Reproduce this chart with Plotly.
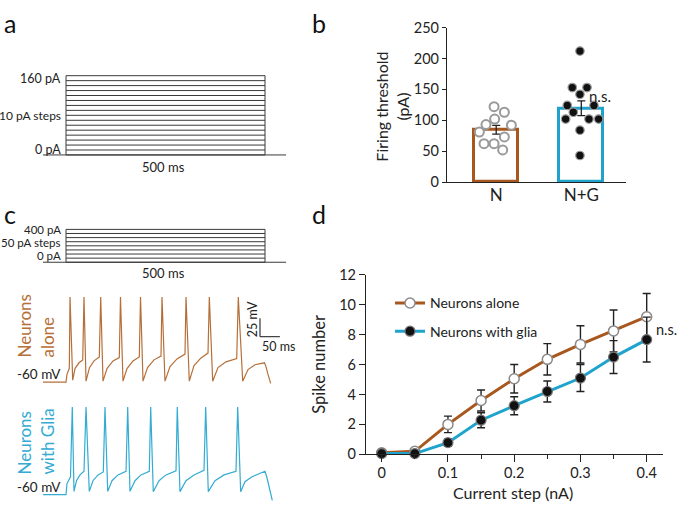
import plotly.graph_objects as go

W, H = 680, 509
FONT = "Lato"
BROWN = "#a8581f"
BROWN_TR = "#b5703a"
BLUE = "#1fa3cd"
BLUE_TR = "#33abd2"
INK = "#222222"

# ---- panel a / c : stimulus protocols ----
stim_a_levels = [0, 10, 20, 30, 40, 50, 60, 70, 80, 90, 100, 110, 120, 130, 140, 150, 160]
stim_c_levels = [0, 50, 100, 150, 200, 250, 300, 350, 400]
stim_dur = 500          # ms
base_t = [-58, 553]     # ms, holding line

# ---- panel c : voltage traces (ms, mV) ----
alone_t = [-57.8, 0, 2.5, 8.3, 10.1, 16.8, 22.6, 32.7, 42.0, 45.2, 50.3, 59.0, 70.4, 83.7, 87.2,
           93.0, 103.0, 118.1, 133.9, 136.9, 143.2, 153.3, 168.3, 184.2, 187.2, 193.5, 204.8,
           221.1, 238.7, 241.2, 248.7, 261.3, 278.9, 299.0, 301.5, 309.8, 321.6, 339.2, 356.8,
           360.1, 368.6, 381.9, 402.0, 428.9, 432.9, 444.0, 457.3, 474.9, 498.7, 502.5, 507.5, 514.3]
alone_v = [-60, -60, -49.5, -41.2, 55.8, -57.4, -41.6, -33.7, -29.7, 55.8, -58.7, -40.3, -31.1,
           -25.8, 55.8, -58.7, -41.6, -31.1, -26.7, 55.8, -58.7, -41.6, -31.1, -25.8, 55.8, -58.7,
           -40.3, -29.7, -24.5, 55.8, -58.7, -38.9, -28.4, -21.8, 55.8, -58.7, -37.6, -27.1, -20.5,
           55.8, -58.7, -40.3, -32.4, -28.0, 55.8, -58.7, -42.9, -36.3, -33.7, -38.9, -49.5, -61.7]

glia_t = [-57.8, 0, 2.5, 11.3, 15.8, 20.1, 26.4, 35.2, 45.2, 50.3, 58.5, 67.8, 80.4, 93.7, 98.0,
          104.8, 115.6, 130.7, 150.8, 155.0, 160.8, 173.4, 188.4, 209.3, 212.8, 219.3, 233.7,
          251.3, 276.4, 279.6, 286.4, 301.5, 321.6, 346.7, 351.0, 357.5, 374.4, 397.0, 427.1,
          431.4, 438.9, 449.7, 467.3, 500.0, 505.0, 512.6, 518.3]
glia_v = [-60, -60, -45.1, -35.9, 59.2, -55.7, -41.2, -33.3, -28.4, 59.2, -55.7, -41.2, -33.3,
          -29.3, 59.2, -55.7, -41.2, -33.3, -28.4, 59.2, -55.7, -41.2, -33.3, -28.4, 59.2, -56.1,
          -41.2, -33.3, -27.6, 59.2, -56.1, -41.2, -33.3, -27.1, 59.2, -56.1, -41.2, -33.3, -28.4,
          59.2, -56.1, -42.5, -35.9, -28.4, -37.2, -54.3, -67.9]

# ---- panel b : firing threshold ----
groups = ["N", "N+G"]
thr_mean = [84.6, 119.5]
thr_sem = [7, 12]
n_vals = [122, 113, 102, 93, 92, 81, 73, 62, 62, 52]
n_jit = [-0.025, 0.096, -0.018, -0.12, 0.178, -0.198, 0.096, -0.143, -0.025, 0.076]
ng_vals = [212, 153, 153, 142, 124, 124, 113, 102, 102, 102, 84, 43]
ng_jit = [-0.016, -0.106, 0.067, -0.016, -0.165, 0.149, -0.094, -0.184, 0.09, 0.204, -0.016, -0.016]

# ---- panel d : spike number vs current ----
current = [0, 0.05, 0.1, 0.15, 0.2, 0.25, 0.3, 0.35, 0.4]
alone_mean = [0.1, 0.2, 2.0, 3.6, 5.05, 6.35, 7.35, 8.25, 9.2]
alone_sem = [0, 0, 0.55, 0.7, 0.95, 1.05, 1.25, 1.4, 1.55]
glia_mean = [0.05, 0.05, 0.78, 2.28, 3.25, 4.2, 5.1, 6.5, 7.67]
glia_sem = [0, 0, 0.25, 0.5, 0.6, 0.7, 0.9, 1.1, 1.5]


def xdom(a, b):
    return [a / W, b / W]


def ydom(top, bot):
    return [1 - bot / H, 1 - top / H]


def xrng(p0, p1, pref, vref, ppu):
    return [vref + (p0 - pref) / ppu, vref + (p1 - pref) / ppu]


def yrng(top, bot, pref, vref, ppu):
    return [vref + (pref - bot) / ppu, vref + (pref - top) / ppu]


def seg_levels(levels):
    xs, ys = [], []
    for L in levels:
        xs += [0, stim_dur, None]
        ys += [L, L, None]
    xs += [0, 0, None, stim_dur, stim_dur, None] + base_t
    ys += [0, max(levels), None, 0, max(levels), None, 0, 0]
    return xs, ys


fig = go.Figure()

T_PX0, T_PPU = 66, 0.398   # t=0 at x=66px, px per ms

for i, lv in ((1, stim_a_levels), (2, stim_c_levels)):
    xs, ys = seg_levels(lv)
    fig.add_trace(go.Scatter(x=xs, y=ys, mode="lines", line=dict(color="#3a3a3a", width=1),
                             xaxis=f"x{i}", yaxis=f"y{i}", showlegend=False, hoverinfo="skip"))

fig.add_trace(go.Scatter(x=alone_t, y=alone_v, mode="lines", line=dict(color=BROWN_TR, width=1.2),
                         xaxis="x3", yaxis="y3", showlegend=False))
fig.add_trace(go.Scatter(x=glia_t, y=glia_v, mode="lines", line=dict(color=BLUE_TR, width=1.2),
                         xaxis="x4", yaxis="y4", showlegend=False))

# panel b
fig.add_trace(go.Bar(x=[0, 1], y=thr_mean, width=0.52,
                     marker=dict(color="white", line=dict(color=[BROWN, BLUE], width=3)),
                     error_y=dict(type="data", array=thr_sem, color=INK, thickness=1.3, width=4),
                     xaxis="x5", yaxis="y5", showlegend=False))
fig.add_trace(go.Scatter(x=[0 + j for j in n_jit], y=n_vals, mode="markers",
                         marker=dict(size=9, color="white", line=dict(color="#9a9a9a", width=2)),
                         xaxis="x5", yaxis="y5", showlegend=False, cliponaxis=False))
fig.add_trace(go.Scatter(x=[1 + j for j in ng_jit], y=ng_vals, mode="markers",
                         marker=dict(size=8.5, color="#111111", line=dict(color="#9a9a9a", width=1.2)),
                         xaxis="x5", yaxis="y5", showlegend=False, cliponaxis=False))

# panel d
fig.add_trace(go.Scatter(x=current, y=alone_mean, mode="lines+markers", name="Neurons alone",
                         legendgroup="a",
                         line=dict(color=BROWN, width=3),
                         marker=dict(size=10, color="white", line=dict(color="#8a8a8a", width=1.5)),
                         error_y=dict(type="data", array=alone_sem, color=INK, thickness=1.4, width=4),
                         xaxis="x6", yaxis="y6", cliponaxis=False))
fig.add_trace(go.Scatter(x=current, y=glia_mean, mode="lines+markers", name="Neurons with glia",
                         legendgroup="b",
                         line=dict(color=BLUE, width=3),
                         marker=dict(size=10, color="#111111", line=dict(color="#777777", width=1.2)),
                         error_y=dict(type="data", array=glia_sem, color=INK, thickness=1.4, width=4),
                         xaxis="x6", yaxis="y6", cliponaxis=False))

hidden = dict(visible=False, fixedrange=True)
TX = xrng(30, 300, T_PX0, 0, T_PPU)

axis_line = dict(showline=True, linecolor=INK, linewidth=1.2, showgrid=False, zeroline=False,
                 tickfont=dict(family=FONT, size=14.5, color=INK), ticks="outside",
                 tickcolor=INK, tickwidth=1.2)

fig.update_layout(
    width=W, height=H, margin=dict(l=0, r=0, t=0, b=0),
    paper_bgcolor="white", plot_bgcolor="rgba(0,0,0,0)",
    font=dict(family=FONT, color=INK),
    xaxis=dict(domain=xdom(30, 300), range=TX, anchor="y", **hidden),
    yaxis=dict(domain=ydom(58, 156), range=yrng(58, 156, 151, 0, 82 / 160), anchor="x", **hidden),
    xaxis2=dict(domain=xdom(30, 300), range=TX, anchor="y2", **hidden),
    yaxis2=dict(domain=ydom(222, 266), range=yrng(222, 266, 262, 0, 34 / 400), anchor="x2", **hidden),
    xaxis3=dict(domain=xdom(30, 300), range=TX, anchor="y3", **hidden),
    yaxis3=dict(domain=ydom(292, 396), range=yrng(292, 396, 386, -60, 0.76), anchor="x3", **hidden),
    xaxis4=dict(domain=xdom(30, 300), range=TX, anchor="y4", **hidden),
    yaxis4=dict(domain=ydom(404, 509), range=yrng(404, 509, 502.3, -60, 0.76), anchor="x4", **hidden),
    xaxis5=dict(domain=xdom(447, 626), range=xrng(447, 626, 496.2, 0, 85.1), anchor="y5",
                tickvals=[0, 1], ticktext=groups, ticklabelstandoff=-3,
                **{**axis_line, "ticks": "", "tickfont": dict(family=FONT, size=17, color=INK)}),
    yaxis5=dict(domain=ydom(19.3, 179), range=[0, 250], anchor="x5", tickvals=[0, 50, 100, 150, 200, 250],
                ticklen=4, **axis_line),
    xaxis6=dict(domain=xdom(366, 663), range=xrng(366, 663, 381.7, 0, 662.5), anchor="y6",
                tickvals=[0, 0.1, 0.2, 0.3, 0.4], ticktext=["0", "0.1", "0.2", "0.3", "0.4"], ticklen=7,
                ticklabelstandoff=-2,
                minor=dict(dtick=0.05, tick0=0, ticks="outside", ticklen=4, tickcolor=INK, tickwidth=1.2),
                **{**axis_line, "tickfont": dict(family=FONT, size=14.5, color=INK)}),
    yaxis6=dict(domain=ydom(275, 460.7), range=[0, 12], anchor="x6", tickvals=[0, 2, 4, 6, 8, 10, 12],
                ticklen=6, **axis_line),
    bargap=0,
    showlegend=True,
    legend=dict(x=390 / W, y=1 - 288 / H, xanchor="left", yanchor="top", bgcolor="rgba(0,0,0,0)",
                font=dict(family=FONT, size=14, color=INK), tracegroupgap=7, itemwidth=30),
)

# scale bar (25 mV, 50 ms) on the top trace
sb_t, sb_v = 487.4, 1.8
fig.add_shape(type="line", xref="x3", yref="y3", x0=sb_t, x1=sb_t, y0=sb_v, y1=sb_v + 25,
              line=dict(color="#444444", width=1.3))
fig.add_shape(type="line", xref="x3", yref="y3", x0=sb_t, x1=sb_t + 50, y0=sb_v, y1=sb_v,
              line=dict(color="#444444", width=1.3))


def note(text, x, y, size=12, color=INK, xanchor="center", yanchor="middle", angle=0, align="center"):
    fig.add_annotation(text=text, x=x / W, y=1 - y / H, xref="paper", yref="paper", showarrow=False,
                       xanchor=xanchor, yanchor=yanchor, textangle=angle, align=align,
                       font=dict(family=FONT, size=size, color=color))


for lab, x, y in (("a", 10, 15), ("b", 319, 14), ("c", 10, 212), ("d", 319, 212)):
    note(lab, x, y, size=25, color="#111111")

note("160 pA", 63, 72, size=12.5, xanchor="right")
note("10 pA steps", 63, 110, size=12, xanchor="right")
note("0 pA", 63, 145, size=12.5, xanchor="right")
note("500 ms", 163, 163, size=13)
note("400 pA", 63, 228, size=11.5, xanchor="right")
note("50 pA steps", 63, 241.5, size=11.5, xanchor="right")
note("0 pA", 63, 255, size=11.5, xanchor="right")
note("500 ms", 163, 273, size=13)

note("Neurons<br>alone", 35.5, 328, size=17, color=BROWN_TR, angle=-90, align="left")
note("Neurons<br>with Glia", 35.5, 448, size=17, color=BLUE_TR, angle=-90, align="left")
note("-60 mV", 63, 378, size=13.5, xanchor="right")
note("-60 mV", 63, 494, size=13.5, xanchor="right")
note("25 mV", 252, 321, size=12.5, angle=-90)
note("50 ms", 278, 349, size=12.5)

note("Firing threshold<br>(pA)", 392, 101, size=16, angle=-90)
note("n.s.", 600, 90, size=15)
note("Spike number", 319, 368, size=16.5, angle=-90)
note("Current step (nA)", 513, 500, size=16)
note("n.s.", 679, 332, size=14.5, xanchor="right")

# keep the figure flush with the page corner (no default body margin / scrollbars)
fig.write_html("out.html", config={"displayModeBar": False},
               post_script="document.body.style.margin='0';document.body.style.overflow='hidden';")
